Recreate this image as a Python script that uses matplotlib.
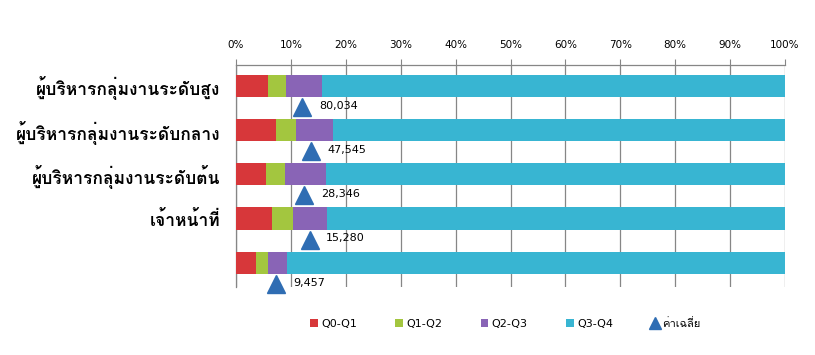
import matplotlib
matplotlib.use("Agg")
import matplotlib.pyplot as plt
from matplotlib import font_manager
from matplotlib.ft2font import FT2Font
import numpy as np

# ข้อมูลจากกราฟ
categories = ['ผู้บริหารกลุ่มงานระดับสูง', 'ผู้บริหารกลุ่มงานระดับกลาง',
              'ผู้บริหารกลุ่มงานระดับต้น', 'เจ้าหน้าที่', '']
q0_q1 = [5.8, 7.2, 5.4, 6.6, 3.6]
q1_q2 = [3.3, 3.7, 3.5, 3.8, 2.3]
q2_q3 = [6.5, 6.8, 7.4, 6.2, 3.4]
q3_q4 = [84.4, 82.3, 83.7, 83.4, 90.7]
avg_pct = [12.1, 13.6, 12.4, 13.4, 7.3]
avg_val = [80034, 47545, 28346, 15280, 9457]
series_names = ['Q0-Q1', 'Q1-Q2', 'Q2-Q3', 'Q3-Q4']
avg_name = 'ค่าเฉลี่ย'


def find_thai_font():
    """หาฟอนต์ที่มีอักษรไทย"""
    for f in font_manager.fontManager.ttflist:
        try:
            if 0x0E1C in FT2Font(f.fname).get_charmap():
                return f.name
        except Exception:
            continue
    return None


thai = find_thai_font()
families = ([thai] if thai else []) + ['DejaVu Sans']
latin_first = ['DejaVu Sans'] + ([thai] if thai else [])
plt.rcParams['font.family'] = families

colors = ['#D7373A', '#A3C63F', '#8964B6', '#38B5D2']
tri_color = '#2F6DB3'
grid_color = '#868686'

fig = plt.figure(figsize=(8.15, 3.55), dpi=100)
ax = fig.add_axes([0.2896, 0.1915, 0.6736, 0.6254])

y = np.arange(len(categories))
left = np.zeros(len(categories))
bar_handles = []
for vals, c, name in zip([q0_q1, q1_q2, q2_q3, q3_q4], colors, series_names):
    b = ax.barh(y, vals, left=left, height=0.5, color=c, label=name, zorder=3)
    bar_handles.append(b)
    left += np.array(vals)

# ค่าเฉลี่ย (สามเหลี่ยม)
ya = y + 0.48
tri, = ax.plot(avg_pct, ya, linestyle='none', marker='^', markersize=13.5,
               color=tri_color, label=avg_name, zorder=4, clip_on=False)
for xv, yv, v in zip(avg_pct, ya, avg_val):
    ax.annotate(f"{v:,}", (xv, yv), xytext=(12, 1), textcoords='offset points',
                ha='left', va='center', fontsize=8, family='DejaVu Sans', zorder=5)

ax.set_xlim(0, 100)
ax.set_ylim(4.55, -0.47)
ax.set_xticks(np.arange(0, 101, 10))
ax.set_xticklabels([f"{t}%" for t in range(0, 101, 10)], fontsize=7.5, family='DejaVu Sans')
ax.xaxis.tick_top()
ax.tick_params(axis='x', length=4, color=grid_color, pad=7)
ax.set_yticks(y)
ax.set_yticklabels(categories, fontsize=12.5, fontweight='bold')
ax.tick_params(axis='y', length=0, pad=11)
ax.grid(axis='x', color=grid_color, linewidth=0.9, zorder=0)

for s in ['bottom', 'right']:
    ax.spines[s].set_visible(False)
for s in ['top', 'left']:
    ax.spines[s].set_color(grid_color)
    ax.spines[s].set_linewidth(0.9)

fig.legend(bar_handles + [tri], series_names + [avg_name], loc='center',
           bbox_to_anchor=(0.62, 0.09), ncol=5, frameon=False,
           prop={'family': latin_first, 'size': 8}, handlelength=0.7,
           handleheight=0.7, handletextpad=0.3, columnspacing=3.45,
           markerscale=0.6)

fig.savefig("out.png", dpi=100)
